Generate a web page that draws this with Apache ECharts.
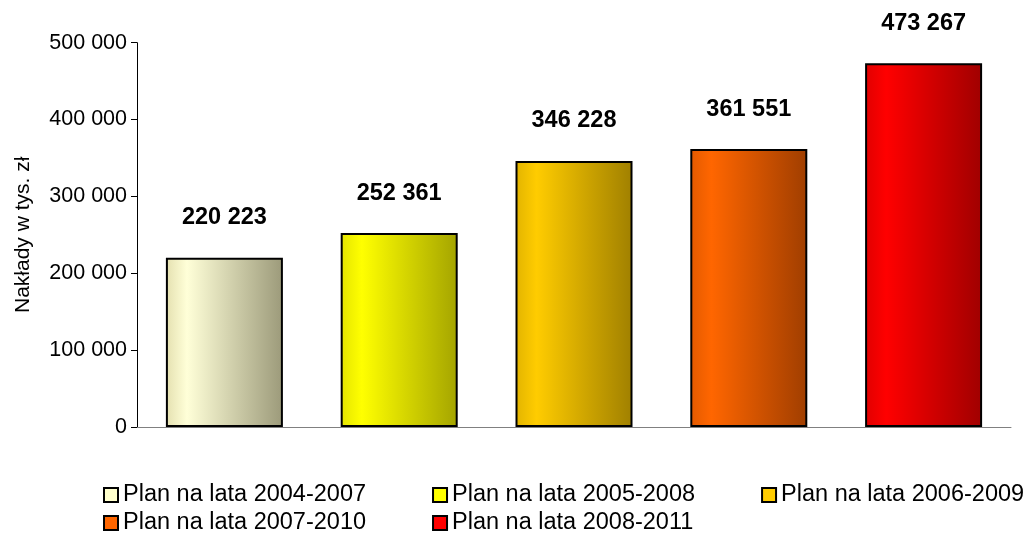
<!DOCTYPE html>
<html>
<head>
<meta charset="utf-8">
<script src="https://cdn.jsdelivr.net/npm/echarts@6/dist/echarts.min.js"></script>
<style>
  html, body { margin: 0; padding: 0; background: #fff; }
  #chart { width: 1025px; height: 548px; }
</style>
</head>
<body>
<div id="chart"></div>
<script>
// dane
const plans = ['Plan na lata 2004-2007', 'Plan na lata 2005-2008', 'Plan na lata 2006-2009', 'Plan na lata 2007-2010', 'Plan na lata 2008-2011']
const values = [220223, 252361, 346228, 361551, 473267]
const yTicks = [0, 100000, 200000, 300000, 400000, 500000]

// kolory: [lewa krawedz, jasny pas, prawa krawedz, legenda]
const palette = [
  ['#e4e0b0', '#ffffd8', '#9c9a7a', '#ffffcc'],
  ['#e4e400', '#ffff00', '#a4a400', '#ffff00'],
  ['#e2b400', '#ffcc00', '#a08000', '#ffcc00'],
  ['#e25a00', '#ff6600', '#a03e00', '#ff6600'],
  ['#e00000', '#ff0000', '#a00000', '#ff0000']
]

const fmt = v => String(v).replace(/\B(?=(\d{3})+(?!\d))/g, ' ')
const font = 'Liberation Sans, Arial, sans-serif'

const chart = echarts.init(document.getElementById('chart'))

const series = plans.map((name, i) => {
  const c = palette[i]
  return {
    name: name,
    type: 'bar',
    stack: 'all',
    barWidth: 117,
    data: plans.map((_, j) => (j === i ? values[i] : '-')),
    itemStyle: {
      borderColor: '#000',
      borderWidth: 2,
      color: new echarts.graphic.LinearGradient(0, 0, 1, 0, [
        { offset: 0, color: c[0] },
        { offset: 0.18, color: c[1] },
        { offset: 1, color: c[2] }
      ])
    },
    label: {
      show: true,
      position: 'top',
      distance: 28,
      formatter: p => fmt(p.value),
      fontFamily: font,
      fontSize: 23.5,
      fontWeight: 'bold',
      color: '#000'
    }
  }
})

const legendStyle = {
  left: 103,
  padding: 0,
  orient: 'horizontal',
  itemWidth: 14,
  itemHeight: 14,
  itemGap: 66,
  icon: 'rect',
  textStyle: { fontFamily: font, fontSize: 23.5, color: '#000' }
}

const option = {
  animation: false,
  grid: { left: 137, right: 14, top: 42.7, bottom: 121 },
  legend: [
    Object.assign({}, legendStyle, {
      top: 483,
      data: plans.slice(0, 3).map((n, i) => ({ name: n, itemStyle: { color: palette[i][3], borderColor: '#000', borderWidth: 2 } }))
    }),
    Object.assign({}, legendStyle, {
      top: 511,
      data: plans.slice(3).map((n, i) => ({ name: n, itemStyle: { color: palette[i + 3][3], borderColor: '#000', borderWidth: 2 } }))
    })
  ],
  xAxis: {
    type: 'category',
    data: plans,
    axisLine: { lineStyle: { color: '#808080', width: 1 } },
    axisTick: { show: false },
    axisLabel: { show: false }
  },
  yAxis: {
    type: 'value',
    min: yTicks[0],
    max: yTicks[yTicks.length - 1],
    interval: 100000,
    name: 'Nakłady w tys. zł',
    nameLocation: 'middle',
    nameGap: 103,
    nameTextStyle: { fontFamily: font, fontSize: 21, color: '#000' },
    axisLine: { show: true, lineStyle: { color: '#000', width: 1 } },
    axisTick: { show: true, inside: false, length: 6, lineStyle: { color: '#000' } },
    axisLabel: { formatter: v => fmt(v), fontFamily: font, fontSize: 21.5, color: '#000', margin: 10 },
    splitLine: { show: false }
  },
  series: series
}

chart.setOption(option)
</script>
</body>
</html>
